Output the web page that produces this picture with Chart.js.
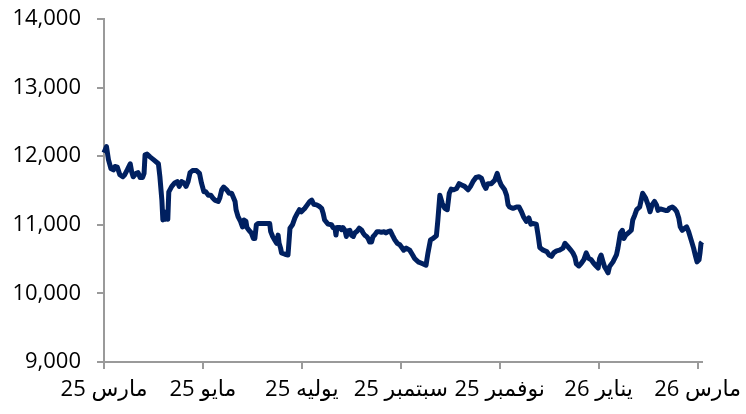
<!DOCTYPE html>
<html>
<head>
<meta charset="utf-8">
<script src="https://cdn.jsdelivr.net/npm/chart.js@4"></script>
<style>
  html, body { margin: 0; padding: 0; background: #fff; }
  #wrap { width: 746px; height: 414px; }
</style>
</head>
<body>
<div id="wrap"><canvas id="indexChart"></canvas></div>
<script>
// x axis labels, one every two months
const tickLabels = ['مارس 25', 'مايو 25', 'يوليه 25', 'سبتمبر 25', 'نوفمبر 25', 'يناير 26', 'مارس 26'];

// y axis range
const yMin = 9000;
const yMax = 14000;
const yStep = 1000;

// position of each reading, in months since the start of March 2025
const months = [
  0.00, 0.05, 0.09, 0.14, 0.19, 0.22, 0.27, 0.32, 0.38, 0.42, 0.47, 0.53, 0.56, 0.59, 0.65, 0.69, 0.73, 0.78, 0.81, 0.83,
  0.87, 0.93, 1.00, 1.10, 1.13, 1.17, 1.19, 1.21, 1.24, 1.27, 1.29, 1.31, 1.37, 1.43, 1.48, 1.52, 1.57, 1.62, 1.66, 1.70,
  1.74, 1.79, 1.87, 1.93, 1.97, 2.02,
  2.06, 2.11, 2.16, 2.20, 2.24, 2.31, 2.34, 2.38, 2.42, 2.48, 2.53, 2.58, 2.61, 2.65, 2.67, 2.71, 2.76, 2.80, 2.83, 2.87,
  2.89, 2.93, 2.98, 3.02, 3.05, 3.08, 3.12, 3.25, 3.35, 3.37, 3.41, 3.45, 3.49, 3.52, 3.54, 3.57, 3.59, 3.66, 3.72, 3.76,
  3.81, 3.86, 3.91, 3.95, 3.99, 4.03,
  4.06, 4.11, 4.16, 4.20, 4.24, 4.30, 4.35, 4.40, 4.43, 4.46, 4.53, 4.60, 4.63, 4.67, 4.69, 4.71, 4.77, 4.80, 4.83, 4.87,
  4.90, 4.93, 4.97, 5.00, 5.04, 5.07, 5.12, 5.16, 5.21, 5.24, 5.27, 5.31, 5.34, 5.37, 5.41, 5.44, 5.47, 5.52, 5.56, 5.61,
  5.66, 5.70, 5.74, 5.79, 5.83, 5.88, 5.93, 5.98, 6.01, 6.06,
  6.11, 6.18, 6.24, 6.28, 6.35, 6.42, 6.51, 6.55, 6.60, 6.65, 6.72, 6.75, 6.79, 6.84, 6.89, 6.94, 6.98, 7.02, 7.07, 7.13,
  7.18, 7.23, 7.29, 7.36, 7.41, 7.46, 7.52, 7.58, 7.63, 7.68, 7.72, 7.76, 7.83, 7.90, 7.95, 7.99, 8.03, 8.10, 8.14, 8.17,
  8.20, 8.27, 8.34, 8.39, 8.44, 8.48, 8.54, 8.59, 8.63, 8.67, 8.74, 8.78, 8.81, 8.88, 8.95, 9.00, 9.05, 9.09, 9.15, 9.21,
  9.28, 9.32, 9.38, 9.45, 9.48, 9.52, 9.55, 9.60, 9.65, 9.70, 9.75, 9.80, 9.85, 9.90, 9.95, 9.99,
  10.02, 10.05, 10.09, 10.12, 10.16, 10.19, 10.22, 10.29, 10.36, 10.39, 10.44, 10.48, 10.51, 10.55, 10.63, 10.66, 10.69, 10.73, 10.77, 10.83,
  10.86, 10.89, 10.95, 11.00, 11.04, 11.08, 11.13, 11.17, 11.20, 11.25, 11.30, 11.35, 11.40, 11.43, 11.49, 11.54, 11.58, 11.62, 11.65, 11.69,
  11.74, 11.78, 11.82, 11.87, 11.92, 11.96, 11.99, 12.03, 12.05, 12.07, 12.09
];

// index level
const values = [
  12050, 12140, 11950, 11820, 11800, 11850, 11840, 11730, 11700, 11730, 11800, 11890, 11770, 11700, 11750, 11760, 11690, 11690, 11750, 12020,
  12030, 11990, 11950, 11890, 11700, 11360, 11070, 11190, 11080, 11170, 11080, 11480, 11560, 11610, 11630, 11560, 11630, 11610, 11560, 11630,
  11760, 11790, 11790, 11750, 11610, 11480,
  11480, 11430, 11430, 11390, 11360, 11340, 11390, 11510, 11550, 11510, 11460, 11460, 11410, 11340, 11220, 11120, 11050, 10970, 11070, 11050,
  10960, 10920, 10880, 10800, 10800, 11000, 11020, 11020, 11020, 10900, 10830, 10780, 10730, 10850, 10730, 10660, 10590, 10570, 10560, 10950,
  11000, 11100, 11170, 11220, 11190, 11220,
  11240, 11290, 11340, 11360, 11300, 11290, 11270, 11240, 11170, 11070, 11010, 11000, 10960, 10950, 10850, 10960, 10960, 10930, 10960, 10920,
  10830, 10910, 10920, 10850, 10830, 10880, 10910, 10950, 10920, 10880, 10850, 10830, 10800, 10750, 10750, 10830, 10850, 10900, 10900, 10890,
  10900, 10880, 10900, 10910, 10850, 10780, 10730, 10710, 10680, 10630,
  10660, 10630, 10560, 10510, 10460, 10440, 10410, 10590, 10780, 10800, 10840, 11070, 11430, 11310, 11240, 11220, 11460, 11520, 11510, 11530,
  11600, 11580, 11560, 11510, 11560, 11630, 11690, 11700, 11680, 11580, 11530, 11600, 11600, 11650, 11750, 11650, 11580, 11510, 11430, 11290,
  11260, 11240, 11260, 11260, 11190, 11120, 11050, 11100, 11010, 11020, 11010, 10830, 10670, 10630, 10610, 10560, 10540, 10590, 10620, 10630,
  10660, 10730, 10680, 10620, 10590, 10530, 10430, 10400, 10440, 10490, 10590, 10510, 10490, 10440, 10400, 10370,
  10510, 10560, 10460, 10390, 10340, 10300, 10390, 10460, 10560, 10660, 10880, 10920, 10800, 10850, 10900, 10920, 11070, 11140, 11220, 11260,
  11360, 11460, 11390, 11290, 11190, 11290, 11340, 11290, 11210, 11230, 11220, 11210, 11210, 11240, 11260, 11230, 11190, 11100, 10970, 10920,
  10950, 10970, 10900, 10780, 10660, 10540, 10460, 10490, 10590, 10730, 10750
];

const axisGrey = '#9a9a9a';
const fontFamily = "'Open Sans', 'DejaVu Sans', sans-serif";

const ctx = document.getElementById('indexChart').getContext('2d');
const indexChart = new Chart(ctx, {
    type: 'line',
    data: {
        datasets: [{
            data: months.map((m, i) => ({ x: m, y: values[i] })),
            borderColor: '#002060',
            borderWidth: 5,
            borderJoinStyle: 'round',
            pointRadius: 0,
            tension: 0,
            fill: false,
            clip: false
        }]
    },
    options: {
        responsive: true,
        maintainAspectRatio: false,
        animation: false,
        layout: {
            padding: { top: 19, right: 44, bottom: 0, left: 0 }
        },
        scales: {
            x: {
                type: 'linear',
                min: 0,
                max: 12.09,
                afterFit: function(scale) {
                    scale.height = 52;
                    scale.paddingLeft = 0;
                    scale.paddingRight = 0;
                },
                ticks: {
                    stepSize: 2,
                    includeBounds: false,
                    autoSkip: false,
                    maxRotation: 0,
                    padding: 8,
                    color: '#000',
                    font: { family: fontFamily, size: 22 },
                    callback: function(v) { return tickLabels[v / 2]; }
                },
                grid: {
                    drawOnChartArea: false,
                    drawTicks: true,
                    tickLength: 7,
                    color: axisGrey,
                    lineWidth: 2
                },
                border: { color: axisGrey, width: 2 }
            },
            y: {
                min: yMin,
                max: yMax,
                afterFit: function(scale) {
                    scale.width = 104;
                    scale.paddingTop = 12;
                    scale.paddingBottom = 12;
                },
                ticks: {
                    stepSize: yStep,
                    padding: 16,
                    color: '#000',
                    font: { family: fontFamily, size: 22 },
                    callback: function(v) { return v.toLocaleString('en-US'); }
                },
                grid: {
                    drawOnChartArea: false,
                    drawTicks: true,
                    tickLength: 7,
                    color: axisGrey,
                    lineWidth: 2
                },
                border: { color: axisGrey, width: 2 }
            }
        },
        plugins: {
            legend: { display: false },
            tooltip: { enabled: false }
        }
    }
});
</script>
</body>
</html>
